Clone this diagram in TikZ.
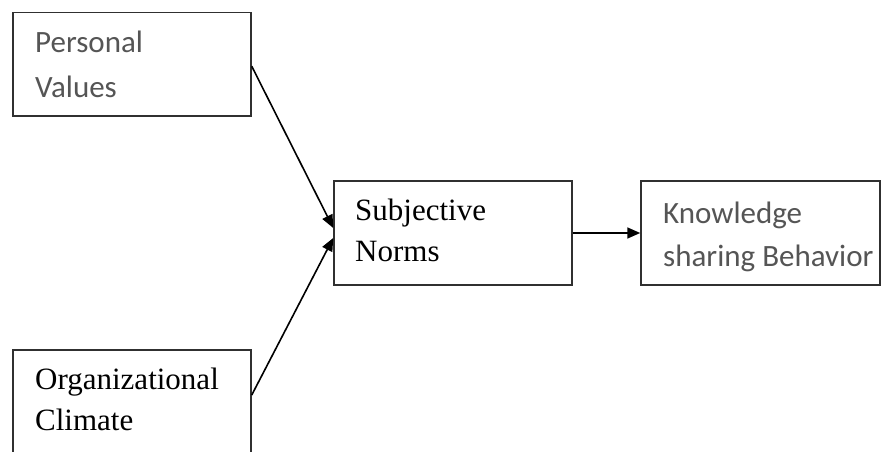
\documentclass[tikz,border=0pt]{standalone}
\usepackage{fontspec}
\usetikzlibrary{arrows.meta,calc}
\newfontfamily\calib{Carlito}
\newfontfamily\tims{Liberation Serif}
\definecolor{boxline}{HTML}{303030}
\definecolor{graytext}{HTML}{555555}
\begin{document}
\begin{tikzpicture}[x=1pt,y=-1pt,
  box/.style={draw=boxline,line width=1.5pt,rectangle,inner sep=0pt,fill=white},
  ctext/.style={anchor=base west,inner sep=0pt,text=graytext,font=\calib\fontsize{31}{37}\selectfont},
  stext/.style={anchor=base west,inner sep=0pt,text=black,font=\tims\fontsize{31}{37}\selectfont},
  conn/.style={draw=black,line width=1.6pt,-{Triangle[length=13pt,width=11pt]}}]
\useasboundingbox (0,0) rectangle (892,452);
\clip (0,0) rectangle (892,452);
\fill[white] (0,0) rectangle (892,452);
% boxes
\node[box,minimum width=238pt,minimum height=103.5pt] (pv) at (132,64.25) {};
\node[box,minimum width=238pt,minimum height=120pt] (oc) at (132,410) {};
\node[box,minimum width=238pt,minimum height=104pt] (sn) at (453,233) {};
\node[box,minimum width=239pt,minimum height=104pt] (kb) at (760.5,233) {};
% texts
\node[ctext] (pv1) at (35,53) {Personal};
\node[ctext] (pv2) at (35,97) {Values};
\node[stext] (oc1) at (35,389) {Organizational};
\node[stext] (oc2) at (35,430) {Climate};
\node[stext] (sn1) at (355,220.5) {Subjective};
\node[stext] (sn2) at (355,261.5) {Norms};
\node[ctext] (kb1) at (663,223) {Knowledge};
\node[ctext] (kb2) at (663,266) {sharing Behavior};
% connectors
\coordinate (ocout) at ($(oc.east)+(0,-15)$);
\draw[conn] ($(pv.east)+(0,2)$) -- ($(sn.west)+(0,-5)$);
\draw[conn] (ocout) -- ($(sn.west)+(0,5)$);
\draw[conn] (sn.east) -- (kb.west);
\end{tikzpicture}
\end{document}
